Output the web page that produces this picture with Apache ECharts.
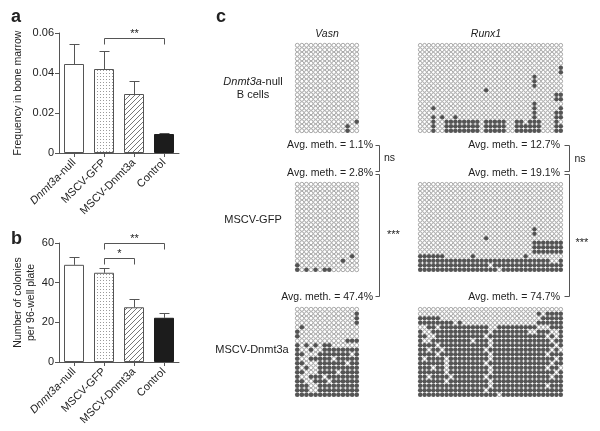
<!DOCTYPE html>
<html><head><meta charset="utf-8">
<script src="https://cdn.jsdelivr.net/npm/echarts@6/dist/echarts.min.js"></script>
<style>html,body{margin:0;padding:0;background:#fff}#c{width:600px;height:431px}</style>
</head><body><div id="c"></div><script>
const FONT = '"Liberation Sans", Arial, Helvetica, sans-serif';
const INK = '#222';
const LINE = '#555';

// ---------------- data ----------------
const groups = ['Dnmt3a-null', 'MSCV-GFP', 'MSCV-Dnmt3a', 'Control'];
const freqMean = [0.0445, 0.0420, 0.0295, 0.0095];
const freqErr  = [0.0100, 0.0092, 0.0066, 0.0006];
const freqAxis = [0, 0.06, 0.02];           // min, max, interval
const freqSig  = [[1, 3, 0.0575, '**']];     // from, to, level, label
const colMean  = [49.0, 45.0, 27.6, 22.3];
const colErr   = [3.9, 2.2, 4.0, 2.3];
const colAxis  = [0, 60, 20];
const colSig   = [[1, 3, 60.2, '**'], [1, 2, 52.4, '*']];

const genes = ['Vasn', 'Runx1'];
const avgMethVasn  = [1.1, 2.8, 47.4];
const avgMethRunx1 = [12.7, 19.1, 74.7];
const methSig = ['ns', '***'];
const vasnShape  = [20, 14];   // clones (rows), CpGs (columns)
const runx1Shape = [20, 33];

// methylated CpG columns per clone (row)
const vasnNull = ['', '', '', '', '', '', '', '', '', '', '', '', '', '', '', '', '', '13', '11', '11'];
const vasnGFP  = ['', '', '', '', '', '', '', '', '', '', '', '', '', '', '', '', '12', '10', '0', '0,2,4,6-7'];
const vasnDnmt3a = ['', '13', '13', '13', '1', '0', '0', '11-13', '0,2,4,6-7',
  '0,3,6-13', '0-1,5-11,13', '0,3-7,9-13', '0-1,5-10,12-13', '0,2,5-13',
  '0-1,5-8,10-13', '0,3-5,7-13', '0-1,4-6,8-13', '0-2,5-13', '0-2,5-13', '0-13'];
const runx1Null = ['', '', '', '', '', '32', '32', '26', '26', '26', '15', '31-32', '31-32', '26',
  '3,26,32', '26,31-32', '3,5,8,26,31-32',
  '3,6-13,15-19,22-23,25-27,31', '3,6-13,15-19,22-27,31-32', '3,6-13,15-19,22-27,31-32'];
const runx1GFP = ['', '', '', '', '', '', '', '', '', '', '26', '26', '15',
  '26-32', '26-32', '26-32', '0-5,12,24', '0-29,32', '0-15,17-32', '0-17,19-32'];
const runx1Dnmt3a = ['', '27,29-32', '0-4,28-32', '0-7,9,27-32', '2-3,5-15,18-26,30-32',
  '0,3-15,17-24,27-29,32', '0-1,4-14,16-28,30,32', '0,3-11,13-15,17-29,31-32',
  '0-3,5-15,17-30,32', '0-1,3-4,6-14,16-29,31', '0-3,5-15,17-28,30-32',
  '0,2-5,7-15,17-30,32', '0-5,7-14,16-29,31-32', '0-2,4-5,7-15,17-28,30-31',
  '0-5,7-15,17-30,32', '0-1,3-6,8-14,16-29,31-32', '0-5,7-15,17-32',
  '0-15,17-28,30-32', '0-14,16-32', '0-17,19-32'];

// ---------------- layout ----------------
const LAY = { barLeft: 59, barWidth: 120, aTop: 33, aH: 120, bTop: 243, bH: 119,
  colX: [295, 418], colW: [64, 145], rowTop: [43, 182, 307], rowH: 90,
  avgY: [145, 173, 297], avgRight: [373, 560], brX: [379.5, 569.5] };

function parseRanges(s) {
  const set = new Set();
  if (!s) return set;
  s.split(',').forEach(p => {
    const parts = p.split('-').map(Number);
    const a = parts[0], b = parts.length > 1 ? parts[1] : parts[0];
    for (let i = a; i <= b; i++) set.add(i);
  });
  return set;
}
function dotPattern() {
  const c = document.createElement('canvas'); c.width = 3; c.height = 3;
  const g = c.getContext('2d'); g.fillStyle = '#fff'; g.fillRect(0, 0, 3, 3);
  g.fillStyle = '#9a9a9a'; g.fillRect(1, 1, 1, 1); return c;
}
function hatchPattern() {
  const c = document.createElement('canvas'); c.width = 5; c.height = 5;
  const g = c.getContext('2d'); g.fillStyle = '#fff'; g.fillRect(0, 0, 5, 5);
  g.strokeStyle = '#666'; g.lineWidth = 0.9; g.beginPath();
  g.moveTo(0, 5); g.lineTo(5, 0); g.moveTo(-1, 1); g.lineTo(1, -1); g.moveTo(4, 6); g.lineTo(6, 4);
  g.stroke(); return c;
}
const barStyles = [
  { color: '#fff', borderColor: LINE, borderWidth: 1 },
  { color: { image: dotPattern(), repeat: 'repeat' }, borderColor: LINE, borderWidth: 1 },
  { color: { image: hatchPattern(), repeat: 'repeat' }, borderColor: LINE, borderWidth: 1 },
  { color: '#1c1c1c', borderColor: '#1c1c1c', borderWidth: 1 }
];

const option = { animation: false, backgroundColor: '#fff', textStyle: { fontFamily: FONT },
  grid: [], xAxis: [], yAxis: [], series: [], graphic: [] };

function barPanel(top, height, means, errs, axis, name, nameGap, sig) {
  const k = option.grid.length;
  option.grid.push({ left: LAY.barLeft, top, width: LAY.barWidth, height, containLabel: false, outerBoundsMode: 'none' });
  option.xAxis.push({ type: 'category', gridIndex: k, data: groups,
    axisLine: { show: true, lineStyle: { color: LINE, width: 1 } },
    axisTick: { show: true, alignWithLabel: true, length: 4, lineStyle: { color: LINE } },
    axisLabel: { rotate: 45, margin: 8, interval: 0,
      formatter: v => v.indexOf('Dnmt3a-') === 0 ? '{i|Dnmt3a}{n|-null}' : '{n|' + v + '}',
      rich: { i: { fontStyle: 'italic', fontSize: 11, fontFamily: FONT, color: INK },
              n: { fontSize: 11, fontFamily: FONT, color: INK } } },
    splitLine: { show: false } });
  option.yAxis.push({ type: 'value', gridIndex: k, min: axis[0], max: axis[1], interval: axis[2],
    axisLine: { show: true, lineStyle: { color: LINE, width: 1 } },
    axisTick: { show: true, length: 4, lineStyle: { color: LINE } },
    axisLabel: { fontSize: 11, color: INK, margin: 5, fontFamily: FONT },
    splitLine: { show: false },
    name, nameLocation: 'middle', nameGap,
    nameTextStyle: { fontSize: 10.5, color: INK, fontFamily: FONT, lineHeight: 13.5 } });
  option.series.push({ type: 'custom', xAxisIndex: k, yAxisIndex: k, z: 1,
    data: means.map((m, i) => [i, m, errs[i]]),
    renderItem: (params, api) => {
      const x = api.value(0), m = api.value(1), e = api.value(2);
      const p0 = api.coord([x, m]), p1 = api.coord([x, m + e]);
      const cx = Math.round(p0[0]) + 0.5, ty = Math.round(p1[1]) + 0.5;
      return { type: 'group', children: [
        { type: 'line', shape: { x1: cx, y1: p0[1], x2: cx, y2: ty }, style: { stroke: LINE, lineWidth: 1 } },
        { type: 'line', shape: { x1: cx - 5, y1: ty, x2: cx + 5, y2: ty }, style: { stroke: LINE, lineWidth: 1 } }
      ] };
    } });
  option.series.push({ type: 'bar', xAxisIndex: k, yAxisIndex: k, barWidth: 20, z: 2,
    data: means.map((v, i) => ({ value: v, itemStyle: barStyles[i] })) });
  option.series.push({ type: 'custom', xAxisIndex: k, yAxisIndex: k, z: 3,
    data: sig.map(s => [s[0], s[1], s[2]]),
    renderItem: (params, api) => {
      const a = api.coord([api.value(0), api.value(2)]);
      const b = api.coord([api.value(1), api.value(2)]);
      const y = Math.round(a[1]) + 0.5, ax = Math.round(a[0]) + 0.5, bx = Math.round(b[0]) + 0.5;
      const label = sig[params.dataIndex][3];
      return { type: 'group', children: [
        { type: 'polyline', shape: { points: [[ax, y + 6], [ax, y], [bx, y], [bx, y + 6]] },
          style: { stroke: LINE, fill: null, lineWidth: 1 } },
        { type: 'text', x: (ax + bx) / 2, y: y + 1,
          style: { text: label, fill: INK, fontSize: 11, fontFamily: FONT,
                   align: 'center', verticalAlign: 'bottom', textAlign: 'center', textVerticalAlign: 'bottom' } }
      ] };
    } });
}
barPanel(LAY.aTop, LAY.aH, freqMean, freqErr, freqAxis, 'Frequency in bone marrow', 34, freqSig);
barPanel(LAY.bTop, LAY.bH, colMean, colErr, colAxis, 'Number of colonies\nper 96-well plate', 21, colSig);

// methylation grids
const dotSets = [[vasnNull, runx1Null], [vasnGFP, runx1GFP], [vasnDnmt3a, runx1Dnmt3a]];
dotSets.forEach((pair, s) => {
  pair.forEach((rowsData, gi) => {
    const shape = gi ? runx1Shape : vasnShape;
    const rows = shape[0], cols = shape[1];
    const k = option.grid.length;
    option.grid.push({ left: LAY.colX[gi], top: LAY.rowTop[s], width: LAY.colW[gi], height: LAY.rowH,
      show: false, containLabel: false, outerBoundsMode: 'none' });
    option.xAxis.push({ type: 'value', gridIndex: k, min: -0.5, max: cols - 0.5, show: false });
    option.yAxis.push({ type: 'value', gridIndex: k, min: -0.5, max: rows - 0.5, inverse: true, show: false });
    const open = [], filled = [];
    for (let r = 0; r < rows; r++) {
      const set = parseRanges(rowsData[r]);
      for (let c = 0; c < cols; c++) (set.has(c) ? filled : open).push([c, r]);
    }
    const size = gi ? 3.7 : 3.9;
    option.series.push({ type: 'scatter', xAxisIndex: k, yAxisIndex: k, symbol: 'circle', symbolSize: size,
      silent: true, data: open, itemStyle: { color: '#fff', borderColor: '#7a7a7a', borderWidth: 0.8 } });
    option.series.push({ type: 'scatter', xAxisIndex: k, yAxisIndex: k, symbol: 'circle', symbolSize: size + 0.8,
      silent: true, data: filled, itemStyle: { color: '#2b2b2b', borderWidth: 0 } });
  });
});

// texts & brackets
function txt(x, y, text, o) {
  o = o || {};
  const align = o.align || 'left';
  const st = { text, fill: INK, fontSize: o.fontSize || 10.5, fontFamily: FONT,
    fontWeight: o.fontWeight || 'normal', fontStyle: o.fontStyle || 'normal',
    align, textAlign: align, verticalAlign: 'middle', textVerticalAlign: 'middle' };
  if (o.rich) st.rich = o.rich;
  option.graphic.push({ type: 'text', x, y, silent: true, style: st });
}
function poly(points) {
  option.graphic.push({ type: 'polyline', silent: true, shape: { points },
    style: { stroke: LINE, fill: null, lineWidth: 1 } });
}
txt(11, 17, 'a', { fontSize: 18, fontWeight: 'bold' });
txt(11, 239, 'b', { fontSize: 18, fontWeight: 'bold' });
txt(216, 17, 'c', { fontSize: 18, fontWeight: 'bold' });
genes.forEach((gname, gi) => txt(gi ? 486 : LAY.colX[0] + LAY.colW[0] / 2, 34, gname, { fontStyle: 'italic', align: 'center' }));
txt(253, 81.5, '{i|Dnmt3a}-null', { align: 'center', fontSize: 11,
  rich: { i: { fontStyle: 'italic', fontSize: 11, fontFamily: FONT, fill: INK } } });
txt(253, 95, 'B cells', { align: 'center', fontSize: 11 });
txt(253, 219.5, 'MSCV-GFP', { align: 'center', fontSize: 11 });
txt(252, 349.5, 'MSCV-Dnmt3a', { align: 'center', fontSize: 11 });
[avgMethVasn, avgMethRunx1].forEach((vals, gi) => {
  vals.forEach((v, i) => txt(LAY.avgRight[gi], LAY.avgY[i], 'Avg. meth. = ' + v.toFixed(1) + '%', { align: 'right' }));
  const bx = LAY.brX[gi], tl = bx - (gi ? 5 : 4);
  poly([[tl, 145.5], [bx, 145.5], [bx, 171.5], [tl, 171.5]]);
  poly([[tl, 174.5], [bx, 174.5], [bx, 296.5], [tl, 296.5]]);
  txt(bx + (gi ? 5 : 4.5), gi ? 159 : 158, methSig[0]);
  txt(bx + (gi ? 6 : 7.5), gi ? 242.5 : 234.5, methSig[1], { fontSize: 11 });
});

const chart = echarts.init(document.getElementById('c'), null, { renderer: 'canvas' });
chart.setOption(option);
</script></body></html>
